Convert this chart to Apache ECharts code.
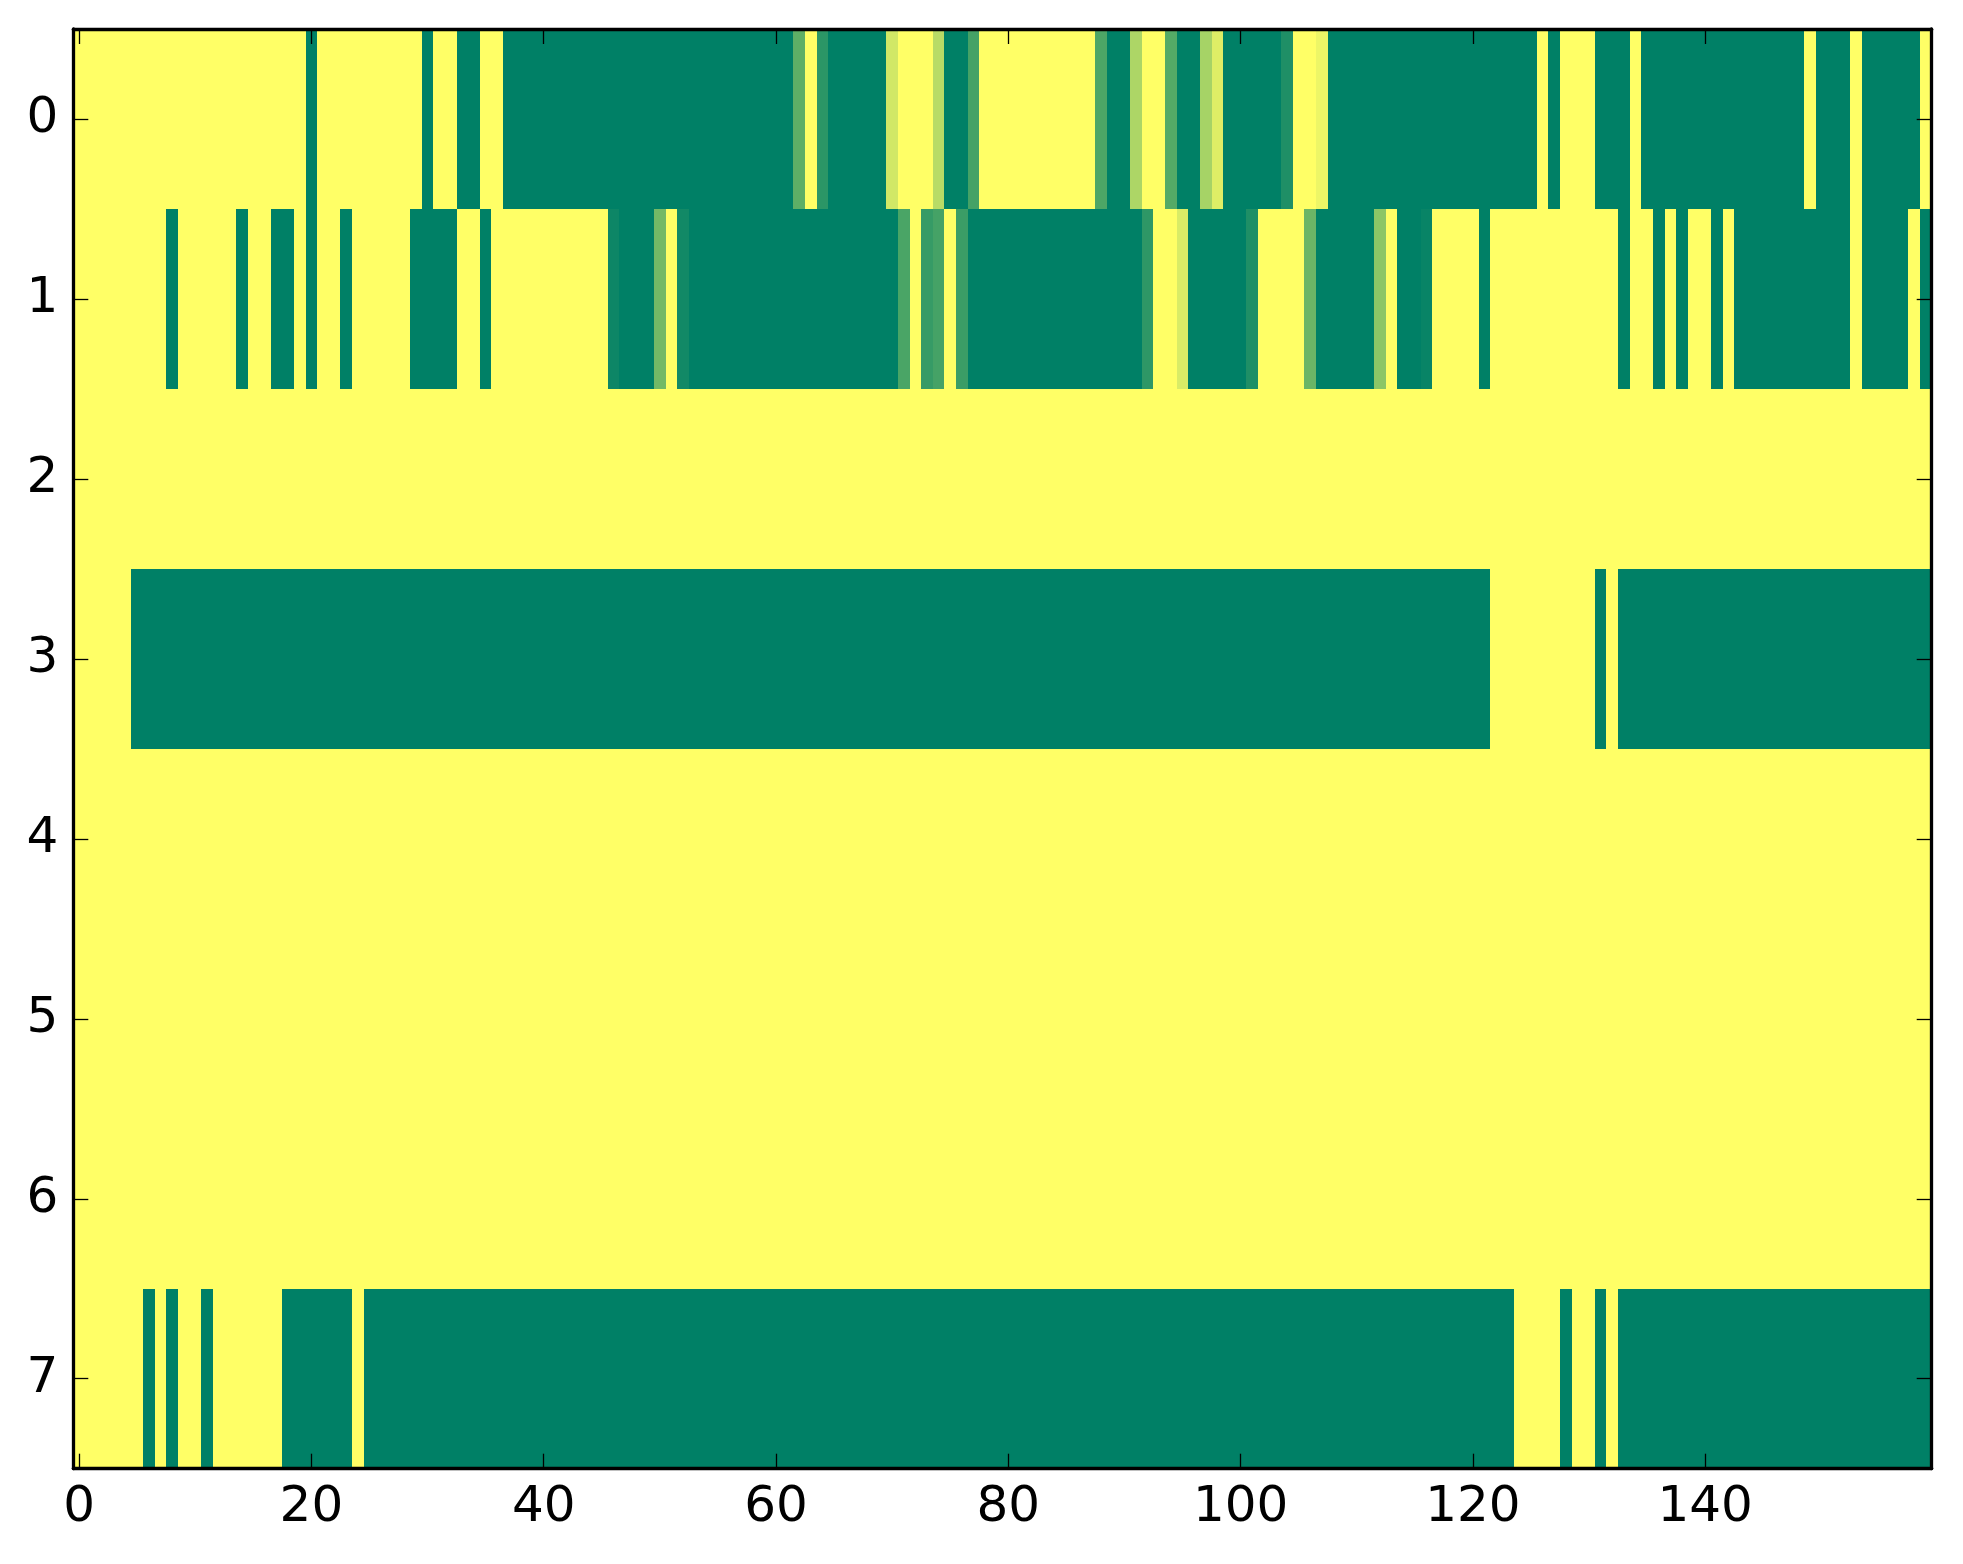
<!DOCTYPE html>
<html>
<head>
<meta charset="utf-8">
<script src="https://cdn.jsdelivr.net/npm/echarts@6/dist/echarts.min.js"></script>
<style>
  html, body { margin: 0; padding: 0; background: #ffffff; }
  #chart { width: 1963px; height: 1564px; }
</style>
</head>
<body>
<div id="chart"></div>
<script>
// Row labels (y categories) and column labels (x categories)
const rowLabels = ['0', '1', '2', '3', '4', '5', '6', '7'];
const colLabels = [];
for (let i = 0; i < 160; i++) colLabels.push(String(i));

// Cell values per row, 160 columns each (0 = green, 1 = yellow)
const row0 = [
  1,1,1,1,1,1,1,1,1,1,1,1,1,1,1,1,1,1,1,1,
  0,1,1,1,1,1,1,1,1,1,0,1,1,0,0,1,1,0,0,0,
  0,0,0,0,0,0,0,0,0,0,0,0,0,0,0,0,0,0,0,0,
  0,0,0.37,1,0.17,0,0,0,0,0,0.82,1,1,1,0.72,0,0,0.27,1,1,
  1,1,1,1,1,1,1,1,0.3,0,0,0.68,1,1,0.33,0,0,0.65,0.87,0,
  0,0,0,0,0.12,1,1,0.93,0,0,0,0,0,0,0,0,0,0,0,0,
  0,0,0,0,0,0,1,0,1,1,1,0,0,0,1,0,0,0,0,0,
  0,0,0,0,0,0,0,0,0,1,0,0,0,1,0,0,0,0,0,1
];
const row1 = [
  1,1,1,1,1,1,1,1,0,1,1,1,1,1,0,1,1,0,0,1,
  0,1,1,0,1,1,1,1,1,0,0,0,0,1,1,0,1,1,1,1,
  1,1,1,1,1,1,0.05,0,0,0,0.45,1,0.07,0,0,0,0,0,0,0,
  0,0,0,0,0,0,0,0,0,0,0,0.29,1,0.21,0.27,1,0.23,0,0,0,
  0,0,0,0,0,0,0,0,0,0,0,0,0.18,1,1,0.85,0,0,0,0,
  0,0.12,1,1,1,1,0.42,0,0,0,0,0,0.55,1,0,0,0.03,1,1,1,
  1,0,1,1,1,1,1,1,1,1,1,1,1,0,1,1,0,1,0,1,
  1,0,1,0,0,0,0,0,0,0,0,0,0,1,0,0,0,0,1,0
];
const row2 = [
  1,1,1,1,1,1,1,1,1,1,1,1,1,1,1,1,1,1,1,1,
  1,1,1,1,1,1,1,1,1,1,1,1,1,1,1,1,1,1,1,1,
  1,1,1,1,1,1,1,1,1,1,1,1,1,1,1,1,1,1,1,1,
  1,1,1,1,1,1,1,1,1,1,1,1,1,1,1,1,1,1,1,1,
  1,1,1,1,1,1,1,1,1,1,1,1,1,1,1,1,1,1,1,1,
  1,1,1,1,1,1,1,1,1,1,1,1,1,1,1,1,1,1,1,1,
  1,1,1,1,1,1,1,1,1,1,1,1,1,1,1,1,1,1,1,1,
  1,1,1,1,1,1,1,1,1,1,1,1,1,1,1,1,1,1,1,1
];
const row3 = [
  1,1,1,1,1,0,0,0,0,0,0,0,0,0,0,0,0,0,0,0,
  0,0,0,0,0,0,0,0,0,0,0,0,0,0,0,0,0,0,0,0,
  0,0,0,0,0,0,0,0,0,0,0,0,0,0,0,0,0,0,0,0,
  0,0,0,0,0,0,0,0,0,0,0,0,0,0,0,0,0,0,0,0,
  0,0,0,0,0,0,0,0,0,0,0,0,0,0,0,0,0,0,0,0,
  0,0,0,0,0,0,0,0,0,0,0,0,0,0,0,0,0,0,0,0,
  0,0,1,1,1,1,1,1,1,1,1,0,1,0,0,0,0,0,0,0,
  0,0,0,0,0,0,0,0,0,0,0,0,0,0,0,0,0,0,0,0
];
const row4 = row2.slice();
const row5 = row2.slice();
const row6 = row2.slice();
const row7 = [
  1,1,1,1,1,1,0,1,0,1,1,0,1,1,1,1,1,1,0,0,
  0,0,0,0,1,0,0,0,0,0,0,0,0,0,0,0,0,0,0,0,
  0,0,0,0,0,0,0,0,0,0,0,0,0,0,0,0,0,0,0,0,
  0,0,0,0,0,0,0,0,0,0,0,0,0,0,0,0,0,0,0,0,
  0,0,0,0,0,0,0,0,0,0,0,0,0,0,0,0,0,0,0,0,
  0,0,0,0,0,0,0,0,0,0,0,0,0,0,0,0,0,0,0,0,
  0,0,0,0,1,1,1,1,0,1,1,0,1,0,0,0,0,0,0,0,
  0,0,0,0,0,0,0,0,0,0,0,0,0,0,0,0,0,0,0,0
];
const rows = [row0, row1, row2, row3, row4, row5, row6, row7];

const heatData = [];
rows.forEach((row, r) => row.forEach((v, c) => heatData.push([c, r, v])));

const every20 = (i) => i % 20 === 0;
const FONT = 'DejaVu Sans';
const tickStyle = { show: true, inside: true, length: 15, alignWithLabel: true,
  lineStyle: { color: '#000', width: 1.3 } };
const lineStyle = { show: true, onZero: false, lineStyle: { color: '#000', width: 3.3 } };

function renderCell(params, api) {
  const c = api.value(0), r = api.value(1);
  const center = api.coord([c, r]);
  const size = api.size([1, 1]);
  const x0 = Math.round(center[0] - size[0] / 2);
  const x1 = Math.round(center[0] + size[0] / 2);
  const y0 = Math.round(center[1] - size[1] / 2);
  const y1 = Math.round(center[1] + size[1] / 2);
  return {
    type: 'rect',
    shape: { x: x0, y: y0, width: x1 - x0, height: y1 - y0 },
    style: { fill: api.visual('color') },
    silent: true
  };
}

const chart = echarts.init(document.getElementById('chart'), null, { renderer: 'canvas' });
chart.setOption({
  backgroundColor: '#ffffff',
  animation: false,
  grid: { left: 73.3, right: 31.3, top: 29, bottom: 95.3, containLabel: false },
  xAxis: [
    {
      type: 'category', data: colLabels, position: 'bottom', boundaryGap: true, z: 10,
      axisLine: lineStyle,
      axisTick: Object.assign({}, tickStyle, { interval: every20 }),
      axisLabel: { interval: every20, fontSize: 50, fontFamily: FONT, color: '#000', margin: 14 },
      splitLine: { show: false }
    },
    {
      type: 'category', data: colLabels, position: 'top', boundaryGap: true, z: 10,
      axisLine: lineStyle,
      axisTick: Object.assign({}, tickStyle, { interval: every20 }),
      axisLabel: { show: false },
      splitLine: { show: false }
    }
  ],
  yAxis: [
    {
      type: 'category', data: rowLabels, inverse: true, position: 'left', boundaryGap: true, z: 10,
      axisLine: lineStyle,
      axisTick: Object.assign({}, tickStyle, { interval: 0 }),
      axisLabel: { interval: 0, fontSize: 50, fontFamily: FONT, color: '#000', margin: 15 },
      splitLine: { show: false }
    },
    {
      type: 'category', data: rowLabels, inverse: true, position: 'right', boundaryGap: true, z: 10,
      axisLine: lineStyle,
      axisTick: Object.assign({}, tickStyle, { interval: 0 }),
      axisLabel: { show: false },
      splitLine: { show: false }
    }
  ],
  visualMap: {
    type: 'continuous', show: false, min: 0, max: 1, dimension: 2, seriesIndex: 0,
    inRange: { color: ['#008066', '#ffff66'] }
  },
  series: [{
    type: 'custom',
    xAxisIndex: 0, yAxisIndex: 0,
    data: heatData,
    renderItem: renderCell,
    encode: { x: 0, y: 1 },
    progressive: 0,
    z: 1
  }]
});
</script>
</body>
</html>
